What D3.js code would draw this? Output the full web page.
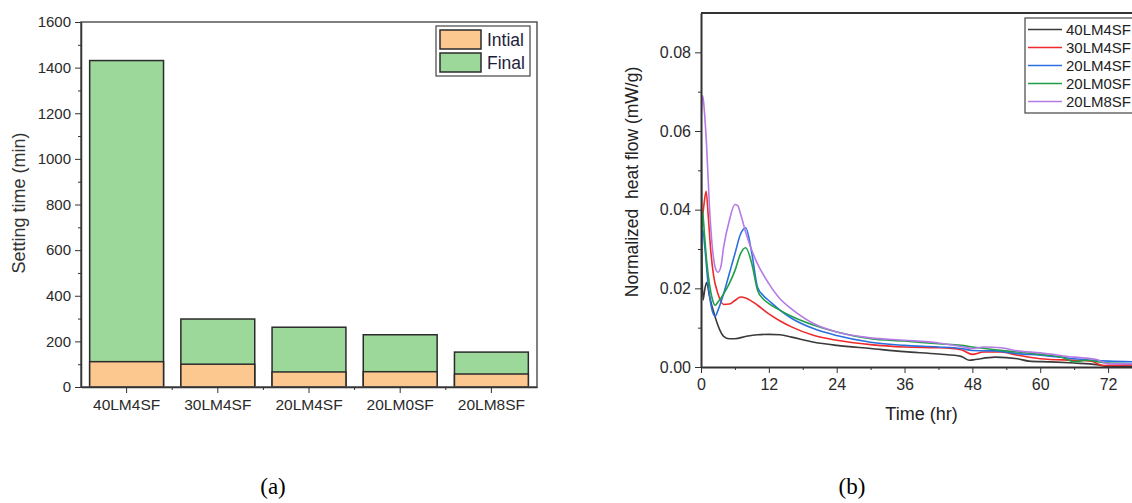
<!DOCTYPE html>
<html>
<head>
<meta charset="utf-8">
<script src="https://cdn.jsdelivr.net/npm/d3@7"></script>
<style>
  html, body { margin: 0; padding: 0; background: #fff; }
  svg { display: block; font-family: "Liberation Sans", Arial, sans-serif; }
  .axis path, .axis line { stroke: #333; }
  .axis text { fill: #2a2a2a; font-family: "Liberation Sans", Arial, sans-serif; }
</style>
</head>
<body>
<svg id="chart" width="1132" height="503"></svg>
<script>
// ---- Panel (a): setting times ----
const mixes = ["40LM4SF", "30LM4SF", "20LM4SF", "20LM0SF", "20LM8SF"];
const initialSet = [111, 100, 66, 67, 57];
const finalSet = [1431, 298, 262, 229, 153];
const settingTicks = [0, 200, 400, 600, 800, 1000, 1200, 1400, 1600];

// ---- Panel (b): normalized heat flow ----
const heatTicksX = [0, 12, 24, 36, 48, 60, 72];
const heatTicksY = [0, 0.02, 0.04, 0.06, 0.08];
const heatSeries = ["40LM4SF", "30LM4SF", "20LM4SF", "20LM0SF", "20LM8SF"];
const heatColors = ["#3a3a3a", "#ee2a2a", "#2a6fe0", "#1f9e47", "#b57ae6"];

const flow40LM4SF = [
  [0, 0.070], [0.15, 0.030], [0.35, 0.017], [0.7, 0.020], [1.0, 0.0215], [1.5, 0.018],
  [2.5, 0.0127], [3.3, 0.0095], [4, 0.0078], [5, 0.0072], [6, 0.0072], [8, 0.0078],
  [10, 0.0082], [12, 0.0083], [14, 0.0082], [16, 0.0076], [20, 0.0063], [24, 0.0055],
  [30, 0.0047], [36, 0.0039], [42, 0.0033], [46, 0.0027], [47.5, 0.0017], [48.5, 0.0019],
  [52, 0.0025], [56, 0.0021], [58, 0.0015], [62, 0.0013], [66, 0.0010], [70, 0.0006],
  [72, 0.0002], [78, 0.0002]
];
const flow30LM4SF = [
  [0, 0.034], [0.5, 0.041], [0.9, 0.0447], [1.3, 0.038], [1.7, 0.030], [2.2, 0.0235],
  [3, 0.0186], [4, 0.0159], [5, 0.0160], [6, 0.0169], [7, 0.0178], [8, 0.0175],
  [10, 0.0157], [12, 0.0135], [14, 0.0117], [16, 0.0102], [20, 0.0080], [24, 0.0068],
  [30, 0.0057], [36, 0.0051], [42, 0.0049], [46, 0.0044], [48, 0.0032], [50, 0.0038],
  [53, 0.0038], [56, 0.0030], [60, 0.0021], [66, 0.0017], [69, 0.0015], [71, 0.0004],
  [78, 0.0006]
];
const flow20LM4SF = [
  [0, 0.028], [0.3, 0.035], [0.7, 0.030], [1.2, 0.022], [1.8, 0.0155], [2.5, 0.0129],
  [3, 0.0144], [4, 0.0186], [5, 0.0237], [6, 0.0288], [7, 0.0338], [7.9, 0.0354],
  [9, 0.0288], [10, 0.0203], [11, 0.0182], [12, 0.0169], [14, 0.0144], [16, 0.0124],
  [20, 0.0097], [24, 0.0080], [30, 0.0063], [36, 0.0055], [42, 0.0051], [46, 0.0047],
  [48, 0.0042], [52, 0.0041], [56, 0.0034], [60, 0.0030], [66, 0.0021], [72, 0.0015],
  [78, 0.0013]
];
const flow20LM0SF = [
  [0, 0.0118], [0.1, 0.030], [0.25, 0.0398], [0.6, 0.034], [1.0, 0.027], [1.5, 0.021],
  [2, 0.0173], [2.5, 0.0157], [3, 0.0165], [4, 0.0186], [5, 0.0212], [6, 0.0245],
  [7, 0.0288], [7.9, 0.0303], [9, 0.0262], [10, 0.0195], [11, 0.0173], [12, 0.0161],
  [14, 0.0144], [16, 0.0129], [20, 0.0106], [24, 0.0089], [30, 0.0072], [36, 0.0066],
  [42, 0.0059], [46, 0.0055], [48, 0.0051], [52, 0.0044], [56, 0.0038], [60, 0.0032],
  [64, 0.0024], [66, 0.0013], [68, 0.0017], [72, 0.0010], [78, 0.0008]
];
const flow20LM8SF = [
  [0, 0.062], [0.3, 0.069], [0.6, 0.065], [1.0, 0.056], [1.5, 0.0406], [2, 0.0305],
  [2.5, 0.0254], [3, 0.0241], [3.5, 0.0254], [4, 0.0305], [5, 0.0372], [6, 0.0413],
  [6.5, 0.0410], [7, 0.0389], [8, 0.0338], [9, 0.0296], [10, 0.0262], [12, 0.0212],
  [14, 0.0173], [16, 0.0148], [20, 0.0110], [24, 0.0089], [30, 0.0074], [36, 0.0068],
  [42, 0.0061], [46, 0.0052], [48, 0.0047], [50, 0.0051], [53, 0.0049], [56, 0.0041],
  [60, 0.0036], [66, 0.0025], [70, 0.0019], [72, 0.0008], [78, 0.0008]
];
const heatData = [flow40LM4SF, flow30LM4SF, flow20LM4SF, flow20LM0SF, flow20LM8SF];

const svg = d3.select("#chart");

// ================= Panel (a) =================
(function () {
  const L = 81, R = 537, T = 22, B = 387;
  const x = d3.scaleBand().domain(mixes).range([L, R]).paddingInner(0.19).paddingOuter(0.095);
  const y = d3.scaleLinear().domain([0, 1600]).range([B, T]);
  const g = svg.append("g");

  const rows = mixes.map((m, i) => ({ m, ini: initialSet[i], fin: finalSet[i] }));

  // final setting time bars (full height from zero)
  g.selectAll("rect.fin").data(rows).join("rect")
    .attr("x", d => x(d.m)).attr("width", x.bandwidth())
    .attr("y", d => y(d.fin)).attr("height", d => y(0) - y(d.fin))
    .attr("fill", "#9dd89b").attr("stroke", "#2b2b2b").attr("stroke-width", 1.5);
  // initial setting time bars drawn over them
  g.selectAll("rect.ini").data(rows).join("rect")
    .attr("x", d => x(d.m)).attr("width", x.bandwidth())
    .attr("y", d => y(d.ini)).attr("height", d => y(0) - y(d.ini))
    .attr("fill", "#fcc88f").attr("stroke", "#2b2b2b").attr("stroke-width", 1.5);

  // frame
  g.append("rect").attr("x", L).attr("y", T).attr("width", R - L).attr("height", B - T)
    .attr("fill", "none").attr("stroke", "#555").attr("stroke-width", 1.5);

  // y axis with minor ticks
  const minorY = d3.range(100, 1600, 200);
  g.append("g").attr("class", "axis").attr("transform", `translate(${L},0)`)
    .call(d3.axisLeft(y).tickValues(minorY).tickSize(3).tickFormat(""))
    .call(a => a.select(".domain").remove());
  g.append("g").attr("class", "axis").attr("transform", `translate(${L},0)`)
    .call(d3.axisLeft(y).tickValues(settingTicks).tickFormat(d3.format("d"))
      .tickSize(6).tickSizeOuter(0).tickPadding(4))
    .call(a => a.select(".domain").attr("stroke-width", 1.5))
    .call(a => a.selectAll("text").attr("font-size", 15));

  // x axis: major ticks at bar centres, minor at band edges
  g.append("g").attr("class", "axis").attr("transform", `translate(0,${B})`)
    .call(d3.axisBottom(x).tickSize(6).tickSizeOuter(0).tickPadding(6))
    .call(a => a.select(".domain").attr("stroke-width", 1.5))
    .call(a => a.selectAll("text").attr("font-size", 15.5));
  const step = x.step();
  const edges = d3.range(1, mixes.length).map(i => x(mixes[i]) - step * 0.19 / 2);
  g.selectAll("line.minorx").data(edges).join("line")
    .attr("x1", d => d).attr("x2", d => d).attr("y1", B).attr("y2", B + 3)
    .attr("stroke", "#333");

  // y title
  g.append("text").attr("transform", `translate(25,${203}) rotate(-90)`)
    .attr("text-anchor", "middle").attr("font-size", 18).attr("fill", "#333")
    .text("Setting time (min)");

  // legend
  const lg = g.append("g");
  lg.append("rect").attr("x", 436).attr("y", 26).attr("width", 94).attr("height", 50)
    .attr("fill", "#fff").attr("stroke", "#444").attr("stroke-width", 1.2);
  const items = [["Intial", "#fcc88f"], ["Final", "#9dd89b"]];
  items.forEach((it, i) => {
    lg.append("rect").attr("x", 440).attr("y", 30 + i * 23).attr("width", 41).attr("height", 19)
      .attr("fill", it[1]).attr("stroke", "#2b2b2b").attr("stroke-width", 1.5);
    lg.append("text").attr("x", 487).attr("y", 46 + i * 23).attr("font-size", 17.5)
      .attr("fill", "#1e1e3c").text(it[0]);
  });

  svg.append("text").attr("x", 273).attr("y", 494).attr("text-anchor", "middle")
    .attr("font-family", "'Liberation Serif', 'Times New Roman', serif")
    .attr("font-size", 23).attr("fill", "#000").text("(a)");
})();

// ================= Panel (b) =================
(function () {
  const L = 701, R = 1142, T = 13, B = 367;
  const x = d3.scaleLinear().domain([0, 78]).range([L, R]);
  const y = d3.scaleLinear().domain([0, 0.09]).range([B, T]);
  const g = svg.append("g");

  const clip = g.append("clipPath").attr("id", "plotclip");
  clip.append("rect").attr("x", L).attr("y", T).attr("width", R - L).attr("height", B - T + 1);

  const line = d3.line().x(d => x(d[0])).y(d => y(d[1])).curve(d3.curveMonotoneX);
  g.append("g").attr("clip-path", "url(#plotclip)")
    .selectAll("path").data(heatData).join("path")
    .attr("d", line).attr("fill", "none")
    .attr("stroke", (d, i) => heatColors[i]).attr("stroke-width", 1.6);

  // frame: top and right
  g.append("line").attr("x1", L).attr("x2", R).attr("y1", T).attr("y2", T)
    .attr("stroke", "#333").attr("stroke-width", 2);
  g.append("line").attr("x1", R).attr("x2", R).attr("y1", T).attr("y2", B)
    .attr("stroke", "#333").attr("stroke-width", 2);

  // y axis
  g.append("g").attr("class", "axis").attr("transform", `translate(${L},0)`)
    .call(d3.axisLeft(y).tickValues([0.01, 0.03, 0.05, 0.07]).tickSize(3).tickFormat(""))
    .call(a => a.select(".domain").remove());
  g.append("g").attr("class", "axis").attr("transform", `translate(${L},0)`)
    .call(d3.axisLeft(y).tickValues(heatTicksY).tickFormat(d3.format(".2f"))
      .tickSize(6).tickSizeOuter(0).tickPadding(4))
    .call(a => a.select(".domain").attr("stroke-width", 2))
    .call(a => a.selectAll("text").attr("font-size", 16));

  // x axis
  g.append("g").attr("class", "axis").attr("transform", `translate(0,${B})`)
    .call(d3.axisBottom(x).tickValues(d3.range(6, 78, 12)).tickSize(3).tickFormat(""))
    .call(a => a.select(".domain").remove());
  g.append("g").attr("class", "axis").attr("transform", `translate(0,${B})`)
    .call(d3.axisBottom(x).tickValues(heatTicksX).tickSize(6).tickSizeOuter(0).tickPadding(6))
    .call(a => a.select(".domain").attr("stroke-width", 2))
    .call(a => a.selectAll("text").attr("font-size", 16));

  // titles
  g.append("text").attr("x", (L + R) / 2).attr("y", 420).attr("text-anchor", "middle")
    .attr("font-size", 18).attr("fill", "#222").text("Time (hr)");
  g.append("text").attr("transform", `translate(638,${182}) rotate(-90)`)
    .attr("text-anchor", "middle").attr("font-size", 17.5).attr("fill", "#222")
    .style("white-space", "pre").text("Normalized  heat flow (mW/g)");

  // legend
  const lg = g.append("g");
  lg.append("rect").attr("x", 1025).attr("y", 18).attr("width", 130).attr("height", 95)
    .attr("fill", "#fff").attr("stroke", "#444").attr("stroke-width", 1.2);
  heatSeries.forEach((s, i) => {
    const yy = 29.5 + i * 18;
    lg.append("line").attr("x1", 1028).attr("x2", 1062).attr("y1", yy).attr("y2", yy)
      .attr("stroke", heatColors[i]).attr("stroke-width", 1.6);
    lg.append("text").attr("x", 1066).attr("y", yy + 5.5).attr("font-size", 15)
      .attr("fill", "#222").text(s);
  });

  svg.append("text").attr("x", 852).attr("y", 494).attr("text-anchor", "middle")
    .attr("font-family", "'Liberation Serif', 'Times New Roman', serif")
    .attr("font-size", 23).attr("fill", "#000").text("(b)");
})();
</script>
</body>
</html>
